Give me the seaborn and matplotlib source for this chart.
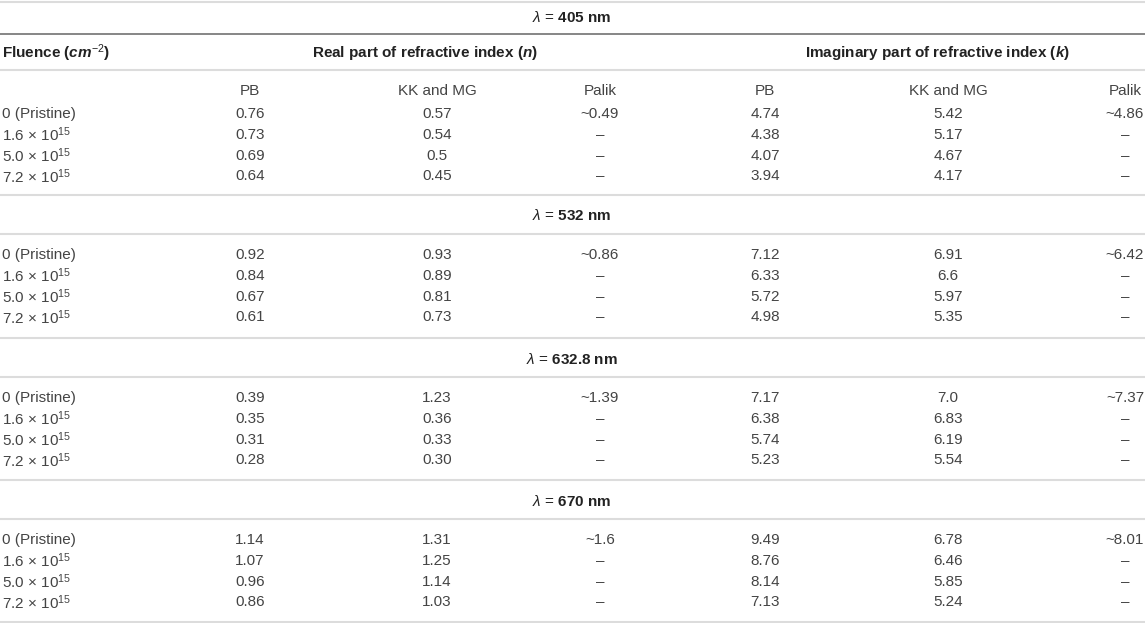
import matplotlib.pyplot as plt
import seaborn as sns

sns.set_theme(style="white")
plt.rcParams['font.family'] = ['Liberation Sans', 'DejaVu Sans']
plt.rcParams['mathtext.fontset'] = 'custom'
plt.rcParams['mathtext.rm'] = 'Liberation Sans'
plt.rcParams['mathtext.it'] = 'Liberation Sans:italic'
plt.rcParams['mathtext.bf'] = 'Liberation Sans:bold'
plt.rcParams['mathtext.bfit'] = 'Liberation Sans:italic:bold'

# table data
wavelengths = ["405", "532", "632.8", "670"]
fluences = ["0 (Pristine)", "1.6 × 10$^{15}$", "5.0 × 10$^{15}$", "7.2 × 10$^{15}$"]
methods = ["PB", "KK and MG", "Palik"]

n_pb = [[0.76, 0.73, 0.69, 0.64], [0.92, 0.84, 0.67, 0.61],
        [0.39, 0.35, 0.31, 0.28], [1.14, 1.07, 0.96, 0.86]]
n_kk = [["0.57", "0.54", "0.5", "0.45"], ["0.93", "0.89", "0.81", "0.73"],
        ["1.23", "0.36", "0.33", "0.30"], ["1.31", "1.25", "1.14", "1.03"]]
n_palik = ["~0.49", "~0.86", "~1.39", "~1.6"]
k_pb = [[4.74, 4.38, 4.07, 3.94], [7.12, 6.33, 5.72, 4.98],
        [7.17, 6.38, 5.74, 5.23], [9.49, 8.76, 8.14, 7.13]]
k_kk = [["5.42", "5.17", "4.67", "4.17"], ["6.91", "6.6", "5.97", "5.35"],
        ["7.0", "6.83", "6.19", "5.54"], ["6.78", "6.46", "5.85", "5.24"]]
k_palik = ["~4.86", "~6.42", "~7.37", "~8.01"]

W, H = 1145, 623
fig = plt.figure(figsize=(W / 100, H / 100), dpi=100)
ax = fig.add_axes([0, 0, 1, 1])
ax.set_xlim(0, W)
ax.set_ylim(H, 0)
ax.axis("off")

TXT = "#444444"
HDR = "#222222"
LIGHT = "#dcdcdc"
FS = 11
col_x = [250, 437, 600, 765, 948, 1125]

def hline(y, color=LIGHT, lw=1.5):
    ax.plot([0, W], [y, y], color=color, lw=lw, solid_capstyle="butt")

# header block
hline(1.5)
hline(34, color="#666666", lw=1.1)
ax.text(2, 53, "Fluence ($\\mathbfit{cm}^{-2}$)", fontsize=FS, fontweight="bold",
        color=HDR, ha="left", va="center")
ax.text(425, 53, "Real part of refractive index ($\\mathbfit{n}$)", fontsize=FS,
        fontweight="bold", color=HDR, ha="center", va="center")
ax.text(937, 53, "Imaginary part of refractive index ($\\mathbfit{k}$)", fontsize=FS,
        fontweight="bold", color=HDR, ha="center", va="center")
hline(70)
for i, m in enumerate(methods * 2):
    ax.text(col_x[i], 91, m, fontsize=FS, color=TXT, ha="center", va="center")

section_lines = [None, 195, 338, 480]
for s, wl in enumerate(wavelengths):
    if s == 0:
        y_lab = 18
        y0 = 114
    else:
        L = section_lines[s]
        hline(L)
        y_lab = L + 21
        hline(L + 39)
        y0 = L + 60
    ax.text(572, y_lab, f"$\\lambda$ = $\\mathbf{{{wl}\\ nm}}$", fontsize=FS,
            color=HDR, ha="center", va="center")
    for r in range(4):
        y = y0 + r * 20.8
        ax.text(2, y, fluences[r], fontsize=FS, color=TXT, ha="left", va="center")
        row = [f"{n_pb[s][r]:.2f}", n_kk[s][r], n_palik[s] if r == 0 else "–",
               f"{k_pb[s][r]:.2f}", k_kk[s][r], k_palik[s] if r == 0 else "–"]
        for c, v in enumerate(row):
            ax.text(col_x[c], y, v, fontsize=FS, color=TXT, ha="center", va="center")
hline(621.5)

fig.savefig("out.png", dpi=100)
